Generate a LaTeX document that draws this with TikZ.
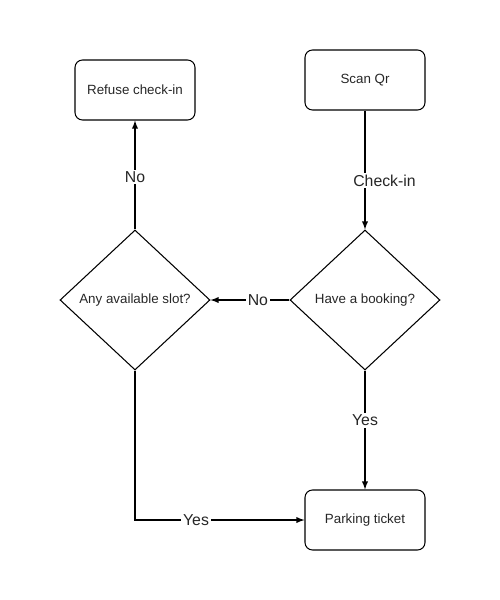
\documentclass[tikz,border=0pt]{standalone}
\usepackage{fontspec}
\setmainfont{Liberation Sans}
\usetikzlibrary{arrows,shapes.geometric}

\begin{document}
\begin{tikzpicture}[line width=.6pt]
\tikzstyle{box}=[draw, rounded corners=.15cm, minimum width=2.4cm, minimum height=1.2cm, inner sep=1pt, text=black!85, font=\fontsize{7.6}{9}\selectfont]
\tikzstyle{decision}=[draw, diamond, minimum width=3cm, minimum height=2.8cm, inner sep=0pt, text=black!85, font=\fontsize{7.6}{9}\selectfont]
\tikzstyle{lbl}=[fill=white, inner sep=1pt, text=black!85, font=\fontsize{9}{10}\selectfont]
\useasboundingbox (0,0) rectangle (10,-12);
\draw (2.7,-1.8) node (refuse) [box] {Refuse check-in};
\draw (7.3,-1.6) node (scan) [box] {Scan Qr};
\draw (2.7,-6) node (slot) [decision] {Any available slot?};
\draw (7.3,-6) node (booking) [decision] {Have a booking?};
\draw (7.3,-10.4) node (ticket) [box] {Parking ticket};
\draw [-latex] (scan) -- node [lbl, pos=.59, xshift=.39cm] {Check-in} (booking);
\draw [-latex] (booking) -- node [lbl, pos=.4] {No} (slot);
\draw [-latex] (slot) -- node [lbl, pos=.48] {No} (refuse);
\draw [-latex] (booking) -- node [lbl, pos=.42] {Yes} (ticket);
\draw [-latex] (slot.south) |- node [lbl, pos=.68] {Yes} (ticket.west);
\end{tikzpicture}
\end{document}
